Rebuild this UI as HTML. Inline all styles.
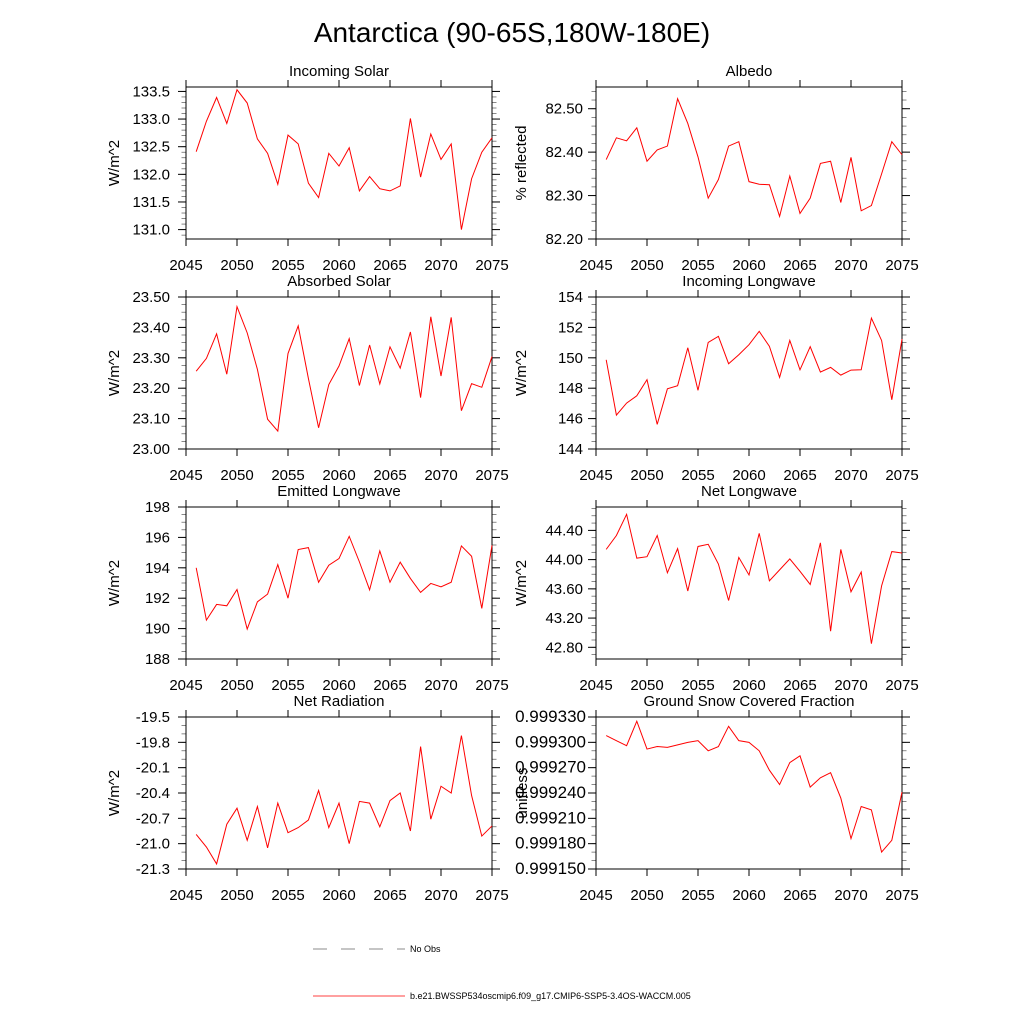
<!DOCTYPE html>
<html><head><meta charset="utf-8"><style>
html,body{margin:0;padding:0;background:#fff;}
svg{display:block;font-family:"Liberation Sans",sans-serif;}
</style></head><body>
<svg id="chart" width="1024" height="1024" viewBox="0 0 1024 1024" xmlns="http://www.w3.org/2000/svg">
<rect width="1024" height="1024" fill="#fff"/>
<text x="512" y="42" text-anchor="middle" font-size="28">Antarctica (90-65S,180W-180E)</text>
<g id="panels"></g>
<g>
<line x1="313" y1="949" x2="405" y2="949" stroke="#666" stroke-width="0.7" stroke-dasharray="14,14"/>
<text x="410" y="952" font-size="9">No Obs</text>
<line x1="313" y1="996" x2="405" y2="996" stroke="#f00" stroke-width="0.7"/>
<text x="410" y="999" font-size="9">b.e21.BWSSP534oscmip6.f09_g17.CMIP6-SSP5-3.4OS-WACCM.005</text>
</g>
</svg>
<script>
const years = [];
for (let y = 2046; y <= 2075; y++) years.push(y);
const xTicks = [2045, 2050, 2055, 2060, 2065, 2070, 2075];

const incomingSolar = [132.41,132.96,133.39,132.92,133.53,133.29,132.64,132.38,131.82,132.71,132.55,131.84,131.58,132.38,132.15,132.48,131.70,131.96,131.74,131.70,131.79,133.01,131.95,132.73,132.27,132.55,131.0,131.92,132.40,132.66];
const albedo = [82.383,82.433,82.426,82.456,82.379,82.405,82.414,82.523,82.466,82.389,82.294,82.337,82.414,82.424,82.332,82.326,82.325,82.252,82.345,82.259,82.294,82.374,82.379,82.284,82.388,82.265,82.277,82.35,82.424,82.394];
const absorbedSolar = [23.256,23.298,23.379,23.246,23.468,23.382,23.262,23.098,23.059,23.314,23.405,23.232,23.070,23.212,23.273,23.363,23.209,23.342,23.214,23.336,23.266,23.385,23.169,23.435,23.24,23.433,23.126,23.215,23.203,23.304];
const incomingLongwave = [149.87,146.23,147.02,147.50,148.56,145.62,147.96,148.16,150.66,147.86,151.01,151.41,149.61,150.2,150.86,151.74,150.75,148.71,151.14,149.21,150.73,149.06,149.37,148.86,149.19,149.21,152.61,151.14,147.24,151.23];
const emittedLongwave = [194.0,190.56,191.59,191.5,192.57,189.97,191.76,192.27,194.21,192.0,195.2,195.33,193.05,194.17,194.61,196.07,194.39,192.55,195.11,193.05,194.37,193.3,192.38,192.97,192.75,193.05,195.44,194.76,191.33,195.48];
const netLongwave = [44.14,44.33,44.62,44.02,44.04,44.33,43.82,44.15,43.57,44.18,44.21,43.94,43.44,44.03,43.79,44.36,43.71,43.86,44.01,43.84,43.66,44.23,43.02,44.14,43.56,43.83,42.85,43.64,44.11,44.09];
const netRadiation = [-20.89,-21.04,-21.24,-20.77,-20.58,-20.96,-20.56,-21.05,-20.52,-20.87,-20.81,-20.72,-20.37,-20.81,-20.52,-21.0,-20.50,-20.52,-20.8,-20.49,-20.40,-20.85,-19.85,-20.71,-20.32,-20.40,-19.72,-20.43,-20.91,-20.79];
const snowFraction = [0.999308,0.999302,0.999296,0.999325,0.999292,0.999295,0.999294,0.999297,0.999300,0.999302,0.999290,0.999295,0.999319,0.999302,0.999300,0.999290,0.999267,0.999250,0.999276,0.999284,0.999247,0.999258,0.999264,0.999234,0.999186,0.999224,0.999220,0.999170,0.999184,0.999241];

const panelTitles = ["Incoming Solar","Albedo","Absorbed Solar","Incoming Longwave","Emitted Longwave","Net Longwave","Net Radiation","Ground Snow Covered Fraction"];
const yTitles = ["W/m^2","% reflected","W/m^2","W/m^2","W/m^2","W/m^2","W/m^2","unitless"];
const yTickLabels = [
  ["131.0","131.5","132.0","132.5","133.0","133.5"],
  ["82.20","82.30","82.40","82.50"],
  ["23.00","23.10","23.20","23.30","23.40","23.50"],
  ["144","146","148","150","152","154"],
  ["188","190","192","194","196","198"],
  ["42.80","43.20","43.60","44.00","44.40"],
  ["-21.3","-21.0","-20.7","-20.4","-20.1","-19.8","-19.5"],
  ["0.999150","0.999180","0.999210","0.999240","0.999270","0.999300","0.999330"]
];
const yMin = [130.83,82.20,23.00,144,188,42.64,-21.3,0.999150];
const yMax = [133.58,82.55,23.50,154,198,44.72,-19.5,0.999330];
const yMinor = [0.1,0.02,0.025,0.5,0.5,0.1,0.1,0.00001];
const series = [incomingSolar,albedo,absorbedSolar,incomingLongwave,emittedLongwave,netLongwave,netRadiation,snowFraction];

const NS = "http://www.w3.org/2000/svg";
const root = document.getElementById("panels");
function mk(tag, attrs, parent) {
  const e = document.createElementNS(NS, tag);
  for (const k in attrs) e.setAttribute(k, attrs[k]);
  parent.appendChild(e);
  return e;
}
const colX = [186, 596], rowY = [87, 297, 507, 717], W = 306, H = 152;
const slugs = ["incoming-solar","albedo","absorbed-solar","incoming-longwave","emitted-longwave","net-longwave","net-radiation","snow-fraction"];

for (let p = 0; p < 8; p++) {
  const L = colX[p % 2], T = rowY[Math.floor(p / 2)], R = L + W, B = T + H;
  const g = mk("g", {}, root);
  
  
  const xs = v => L + (v - 2045) / 30 * W;
  const ys = v => B - (v - yMin[p]) / (yMax[p] - yMin[p]) * H;

  const t = mk("text", {x: L + W / 2, y: T - 11, "text-anchor": "middle", "font-size": 15}, g);
  t.textContent = panelTitles[p];
  
  

  xTicks.forEach(v => {
    const x = xs(v);
    mk("line", {x1: x, y1: B, x2: x, y2: B + 7, stroke: "#000"}, g);
    mk("line", {x1: x, y1: T, x2: x, y2: T - 7, stroke: "#000"}, g);
    const lt = mk("text", {x: x, y: B + 31, "text-anchor": "middle", "font-size": 15}, g);
    lt.textContent = v;
    
    
  });
  const n0 = Math.ceil(yMin[p] / yMinor[p] - 1e-6), n1 = Math.floor(yMax[p] / yMinor[p] + 1e-6);
  for (let n = n0; n <= n1; n++) {
    const y = ys(n * yMinor[p]);
    mk("line", {x1: L, y1: y, x2: L - 4.5, y2: y, stroke: "#555", "stroke-width": 0.7}, g);
    mk("line", {x1: R, y1: y, x2: R + 4.5, y2: y, stroke: "#555", "stroke-width": 0.7}, g);
  }
  const gap = p === 7 ? 10 : (p % 2 ? 13 : 16);
  const fs = p === 7 ? 17 : 15;
  yTickLabels[p].forEach(s => {
    const y = ys(parseFloat(s));
    mk("line", {x1: L, y1: y, x2: L - 8, y2: y, stroke: "#000"}, g);
    mk("line", {x1: R, y1: y, x2: R + 8, y2: y, stroke: "#000"}, g);
    const lt = mk("text", {x: L - gap, y: y + 5, "text-anchor": "end", "font-size": fs}, g);
    lt.textContent = s;
    
    
  });
  mk("rect", {x: L, y: T, width: W, height: H, fill: "none", stroke: "#000", "stroke-width": 1}, g);
  const tx = p === 7 ? L - 69 : (p % 2 ? L - 70 : L - 67);
  const yt = mk("text", {x: tx, y: T + H / 2, "text-anchor": "middle", "font-size": 15, transform: `rotate(-90 ${tx} ${T + H / 2})`}, g);
  yt.textContent = yTitles[p];
  
  
  const d = series[p].map((v, i) => (i ? "L" : "M") + xs(years[i]).toFixed(2) + "," + ys(v).toFixed(2)).join("");
  const path = mk("path", {d: d, fill: "none", stroke: "#f00", "stroke-width": 1}, g);
  
  
}
</script>
</body></html>
